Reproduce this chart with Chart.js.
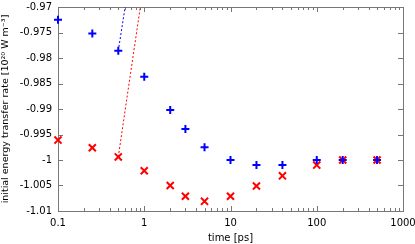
<!DOCTYPE html>
<html>
<head>
<meta charset="utf-8">
<script src="https://cdn.jsdelivr.net/npm/chart.js"></script>
<style>
  html, body { margin: 0; padding: 0; background: #fff; }
  #wrap { width: 415px; height: 244px; }
</style>
</head>
<body>
<div id="wrap"><canvas id="rateChart"></canvas></div>
<script>
// time points [ps]
const times = [0.1, 0.25, 0.5, 1, 2, 3, 5, 10, 20, 40, 100, 200, 500];
// initial energy transfer rate [10^20 W m^-3]
const blueRates = [-0.9725, -0.9752, -0.9786, -0.9837, -0.9902, -0.9939, -0.9975, -1.0000, -1.0010, -1.0010, -1.0000, -1.0000, -1.0000];
const redRates = [-0.9961, -0.9976, -0.9994, -1.0021, -1.0050, -1.0071, -1.0081, -1.0071, -1.0051, -1.0031, -1.0010, -1.0000, -1.0000];

// dotted guide lines leaving the chart from the 0.5 ps points
const blueLineX = [0.5, 0.6];
const blueLineY = [-0.9786, -0.97];
const redLineX = [0.5, 0.9];
const redLineY = [-0.9994, -0.97];

const yTicks = [-0.97, -0.975, -0.98, -0.985, -0.99, -0.995, -1, -1.005, -1.01];
const xMajor = [0.1, 1, 10, 100, 1000];

const FONT = 'DejaVu Sans';
const FRAME = '#777777';

function toPoints(xs, ys) {
    return xs.map(function(x, i) { return { x: x, y: ys[i] }; });
}

// all log ticks (1..9 per decade) for minor marks
function logTicks() {
    const out = [];
    for (let d = -1; d < 3; d++) {
        for (let m = 1; m < 10; m++) {
            out.push(+(m * Math.pow(10, d)).toPrecision(3));
        }
    }
    out.push(1000);
    return out;
}

// frame and inward ticks, gnuplot style
const frameTicks = {
    id: 'frameTicks',
    beforeDatasetsDraw: function(chart) {
        const ctx = chart.ctx;
        const area = chart.chartArea;
        const xs = chart.scales.x;
        const ys = chart.scales.y;
        ctx.save();
        ctx.strokeStyle = FRAME;
        ctx.lineWidth = 1;
        ctx.beginPath();
        logTicks().forEach(function(v) {
            const px = Math.round(xs.getPixelForValue(v)) + 0.5;
            const len = xMajor.indexOf(v) >= 0 ? 5 : 3;
            ctx.moveTo(px, area.bottom);
            ctx.lineTo(px, area.bottom - len);
            ctx.moveTo(px, area.top);
            ctx.lineTo(px, area.top + len);
        });
        yTicks.forEach(function(v) {
            const py = Math.round(ys.getPixelForValue(v)) + 0.5;
            ctx.moveTo(area.left, py);
            ctx.lineTo(area.left + 5, py);
            ctx.moveTo(area.right, py);
            ctx.lineTo(area.right - 5, py);
        });
        ctx.stroke();
        ctx.strokeRect(Math.round(area.left) + 0.5, Math.round(area.top) + 0.5,
            Math.round(area.right - area.left), Math.round(area.bottom - area.top));
        ctx.restore();
    }
};

const ctx = document.getElementById('rateChart').getContext('2d');
new Chart(ctx, {
    type: 'scatter',
    data: {
        datasets: [
            {
                data: toPoints(blueLineX, blueLineY),
                showLine: true,
                borderColor: '#0000ff',
                borderWidth: 1,
                borderDash: [2, 2],
                pointRadius: 0
            },
            {
                data: toPoints(redLineX, redLineY),
                showLine: true,
                borderColor: '#ff0000',
                borderWidth: 1,
                borderDash: [2, 2],
                pointRadius: 0
            },
            {
                data: toPoints(times, blueRates),
                pointStyle: 'cross',
                pointRadius: 4,
                borderColor: '#0000ff',
                backgroundColor: '#0000ff',
                borderWidth: 2,
                clip: false
            },
            {
                data: toPoints(times, redRates),
                pointStyle: 'crossRot',
                pointRadius: 5,
                borderColor: '#ff0000',
                backgroundColor: '#ff0000',
                borderWidth: 2,
                clip: false
            }
        ]
    },
    options: {
        responsive: true,
        maintainAspectRatio: false,
        animation: false,
        layout: { padding: { top: 3, right: 12, left: 0, bottom: 0 } },
        plugins: {
            legend: { display: false },
            tooltip: { enabled: false }
        },
        scales: {
            x: {
                type: 'logarithmic',
                min: 0.1,
                max: 1000,
                afterBuildTicks: function(scale) {
                    scale.ticks = xMajor.map(function(v) { return { value: v }; });
                },
                afterFit: function(scale) {
                    scale.height = 33;
                    scale.paddingLeft = 0;
                    scale.paddingRight = 0;
                },
                grid: { display: false, drawTicks: false },
                border: { display: false },
                ticks: {
                    color: '#000',
                    padding: 6,
                    maxRotation: 0,
                    autoSkip: false,
                    font: { family: FONT, size: 10 },
                    callback: function(value) { return String(value); }
                },
                title: {
                    display: true,
                    text: 'time [ps]',
                    color: '#000',
                    padding: { top: 0, bottom: 0 },
                    font: { family: FONT, size: 10 }
                }
            },
            y: {
                min: -1.01,
                max: -0.97,
                afterBuildTicks: function(scale) {
                    scale.ticks = yTicks.map(function(v) { return { value: v }; });
                },
                afterFit: function(scale) {
                    scale.width = 58;
                    scale.paddingTop = 0;
                    scale.paddingBottom = 0;
                },
                grid: { display: false, drawTicks: false },
                border: { display: false },
                ticks: {
                    color: '#000',
                    padding: 6,
                    autoSkip: false,
                    font: { family: FONT, size: 10 },
                    callback: function(value) { return String(+value.toFixed(3)); }
                },
                title: {
                    display: true,
                    text: 'initial energy transfer rate [10²⁰ W m⁻³]',
                    color: '#000',
                    padding: { top: 0, bottom: 0 },
                    font: { family: FONT, size: 9.5 }
                }
            }
        }
    },
    plugins: [frameTicks]
});
</script>
</body>
</html>
